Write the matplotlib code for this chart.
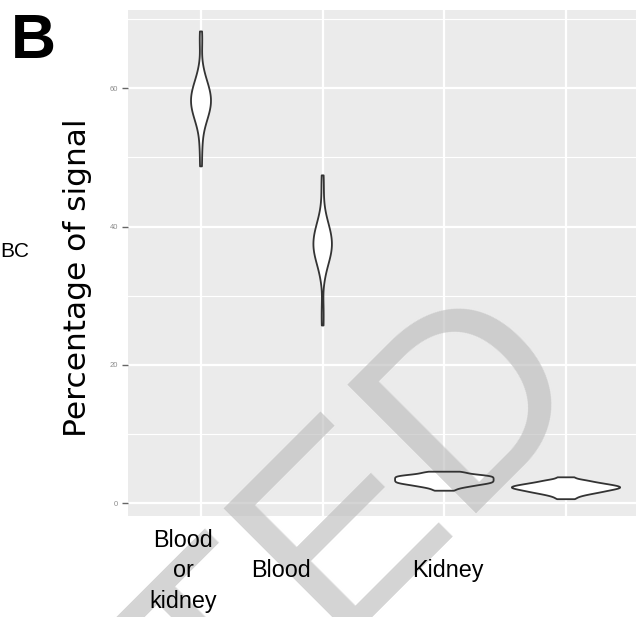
import matplotlib
matplotlib.use("Agg")
import matplotlib.pyplot as plt
import matplotlib.transforms as mtransforms

# signal percentages per tissue group (one violin each)
groups = ["Blood\nor\nkidney", "Blood", "Kidney", ""]
blood_or_kidney = [48.7, 51.2, 53.0, 54.3, 54.9, 55.4, 55.8, 56.2, 56.5,
                   56.8, 57.1, 57.3, 57.6, 57.8, 58.1, 58.3, 58.6, 58.8,
                   59.1, 59.3, 59.6, 59.9, 60.2, 60.6, 61.0, 61.5, 62.1,
                   63.4, 66.2, 68.2]
blood = [25.7, 28.3, 32.1, 33.4, 34.1, 34.6, 35.1, 35.4, 35.8, 36.0,
         36.3, 36.6, 36.9, 37.1, 37.4, 37.6, 37.9, 38.1, 38.4, 38.7,
         39.0, 39.3, 39.6, 40.0, 40.4, 40.9, 41.6, 42.9, 45.2, 47.4]
kidney = [1.82, 2.09, 2.29, 2.42, 2.53, 2.63, 2.72, 2.79, 2.87, 2.93,
          2.99, 3.06, 3.12, 3.18, 3.25, 3.31, 3.37, 3.44, 3.50, 3.56,
          3.63, 3.69, 3.75, 3.82, 3.88, 3.94, 4.01, 4.07, 4.16, 4.30,
          4.45, 4.57]
unassigned = [0.60, 0.90, 1.12, 1.27, 1.40, 1.50, 1.60, 1.68, 1.76, 1.84,
              1.91, 1.98, 2.04, 2.10, 2.16, 2.22, 2.27, 2.33, 2.38, 2.44,
              2.50, 2.56, 2.62, 2.69, 2.77, 2.84, 2.93, 3.03, 3.14, 3.28,
              3.42, 3.76]
y_major = [0, 20, 40, 60]
y_minor = [10, 30, 50, 70]

series = [blood_or_kidney, blood, kidney, unassigned]
positions = list(range(1, len(groups) + 1))

# violin sizing (area-like scaling as in ggplot) and kde bandwidth factors
VIOLIN_WIDTHS = [0.164, 0.152, 0.81, 0.89]
BANDWIDTHS = [0.35, 0.35, 0.25, 0.25]

# label placement tweaks (x shift in category units, last-line baseline in px)
LABEL_SHIFT = [-0.148, -0.34, 0.032, 0.0]
LABEL_BASELINE_PX = [608, 577, 577, 577]

W, H = 636, 617
PANEL = "#EBEBEB"
OUTLINE = "#333333"
SANS = "Liberation Sans"

fig = plt.figure(figsize=(W / 100, H / 100), dpi=100)
ax = fig.add_axes([128 / W, 1 - 515.5 / H, 511 / W, 505.5 / H])
ax.set_facecolor(PANEL)
for sp in ax.spines.values():
    sp.set_visible(False)

ax.set_xlim(0.4, 4.6)
ax.set_ylim(-1.76, 71.3)
ax.set_xticks(positions)
ax.set_xticklabels([])
ax.set_yticks(y_major)
ax.set_yticklabels([str(v) for v in y_major], fontsize=5.5, color="#8c8c8c",
                   family=SANS)
ax.set_yticks(y_minor, minor=True)
ax.tick_params(axis="x", length=0)
ax.tick_params(axis="y", which="major", length=4.5, width=1.0,
               color="#666666", pad=2.5)
ax.tick_params(axis="y", which="minor", length=0)
ax.grid(True, which="major", color="white", lw=1.6)
ax.grid(True, which="minor", axis="y", color="white", lw=0.8)
ax.set_axisbelow(True)

for pos, vals, w, bw in zip(positions, series, VIOLIN_WIDTHS, BANDWIDTHS):
    # white body first, outline drawn later on top of the stamp
    body = ax.violinplot([vals], positions=[pos], widths=w,
                         showextrema=False, bw_method=bw)
    for b in body["bodies"]:
        b.set_facecolor("white")
        b.set_edgecolor("none")
        b.set_alpha(1)
        b.set_zorder(1)
    edge = ax.violinplot([vals], positions=[pos], widths=w,
                         showextrema=False, bw_method=bw)
    for b in edge["bodies"]:
        b.set_facecolor("none")
        b.set_edgecolor(OUTLINE)
        b.set_linewidth(1.3)
        b.set_alpha(1)
        b.set_zorder(3)

# diagonal stamp across the panel
ax.text(590 / W, 1 - 379 / H, "RETRACTED", transform=fig.transFigure,
        rotation=45, rotation_mode="anchor", ha="right", va="baseline",
        fontsize=189, family=SANS, color="#bdbdbd",
        alpha=0.65, zorder=2, clip_on=False)

label_tf = mtransforms.blended_transform_factory(ax.transData, fig.transFigure)
for pos, name, dx, base in zip(positions, groups, LABEL_SHIFT, LABEL_BASELINE_PX):
    ax.text(pos + dx, 1 - base / H, name, transform=label_tf, ha="center",
            va="baseline", multialignment="center", linespacing=1.43,
            fontsize=16.8, family=SANS, color="black", zorder=5,
            clip_on=False)

fig.text(86 / W, 1 - 277.5 / H, "Percentage of signal", rotation=90,
         rotation_mode="anchor", ha="center", va="baseline", fontsize=22.5,
         family="DejaVu Sans", color="black")

fig.text(10.4 / W, 1 - 58.3 / H, "B", fontsize=45, fontweight="bold",
         family=SANS, va="baseline")
fig.text(0, 1 - 256.7 / H, "BC", fontsize=15, family=SANS,
         va="baseline")

fig.savefig("out.png", dpi=100)
